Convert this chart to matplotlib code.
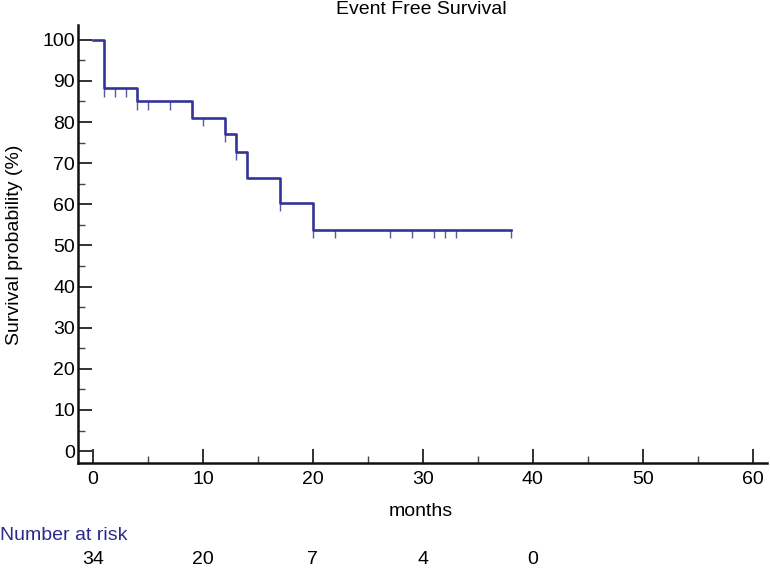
import numpy as np
import matplotlib.pyplot as plt
from matplotlib.ticker import MultipleLocator
import matplotlib.transforms as mtransforms

plt.rcParams['font.family'] = ['Liberation Sans', 'DejaVu Sans']

# Kaplan-Meier steps (months, survival %)
event_times = [0, 1, 4, 9, 12, 13, 14, 17, 20, 38]
survival = [100, 88.2, 85.0, 81.1, 77.1, 72.7, 66.4, 60.4, 53.8, 53.8]
censor_times = [1, 2, 3, 4, 5, 7, 10, 12, 13, 17, 20, 22, 27, 29, 31, 32, 33, 38]

risk_times = [0, 10, 20, 30, 40]
risk_counts = [34, 20, 7, 4, 0]

line_col = "#33339a"
fs = 14

fig = plt.figure(figsize=(7.7, 5.68), dpi=100)
ax = fig.add_axes([78 / 770, (568 - 463) / 568, (767 - 78) / 770, (463 - 25) / 568])

ax.step(event_times, survival, where="post", color=line_col, lw=1.9, zorder=3)

# censored marks, small ticks under the curve
cens_s = [survival[np.searchsorted(event_times, t, side="right") - 1] for t in censor_times]
ax.vlines(censor_times, np.array(cens_s) - 2, cens_s, color="#5a5a9a", lw=1.0, zorder=2)

ax.set_xlim(-1.36, 61.3)
ax.set_ylim(-2.9, 103.6)
ax.xaxis.set_minor_locator(MultipleLocator(5))
ax.yaxis.set_minor_locator(MultipleLocator(5))
ax.set_xticks(np.arange(0, 61, 10))
ax.set_yticks(np.arange(0, 101, 10))

ax.tick_params(which="major", direction="in", length=10, width=1.3, labelsize=fs, color="#222222")
ax.tick_params(which="minor", direction="in", length=5, width=1.0, color="#444444")
ax.tick_params(axis="x", pad=6)
ax.tick_params(axis="y", pad=2)

for s in ["top", "right"]:
    ax.spines[s].set_visible(False)
for s in ["left", "bottom"]:
    ax.spines[s].set_linewidth(1.8)
    ax.spines[s].set_color("#111111")

fig.text(421 / 770, 1 - 10 / 568, "Event Free Survival", fontsize=fs, ha="center", va="center")
fig.text(421 / 770, 1 - 511 / 568, "months", fontsize=fs, ha="center", va="center")
fig.text(15 / 770, 1 - 245 / 568, "Survival probability (%)", fontsize=fs, ha="center",
         va="center", rotation=90)

# number at risk table
trans = mtransforms.blended_transform_factory(ax.transData, fig.transFigure)
fig.text(0.0, 1 - 536 / 568, "Number at risk", color="#2b2b8a", fontsize=fs, va="center", ha="left")
for t, n in zip(risk_times, risk_counts):
    ax.text(t, 1 - 559 / 568, str(n), transform=trans, ha="center", va="center", fontsize=fs)

fig.savefig("out.png", dpi=100)
